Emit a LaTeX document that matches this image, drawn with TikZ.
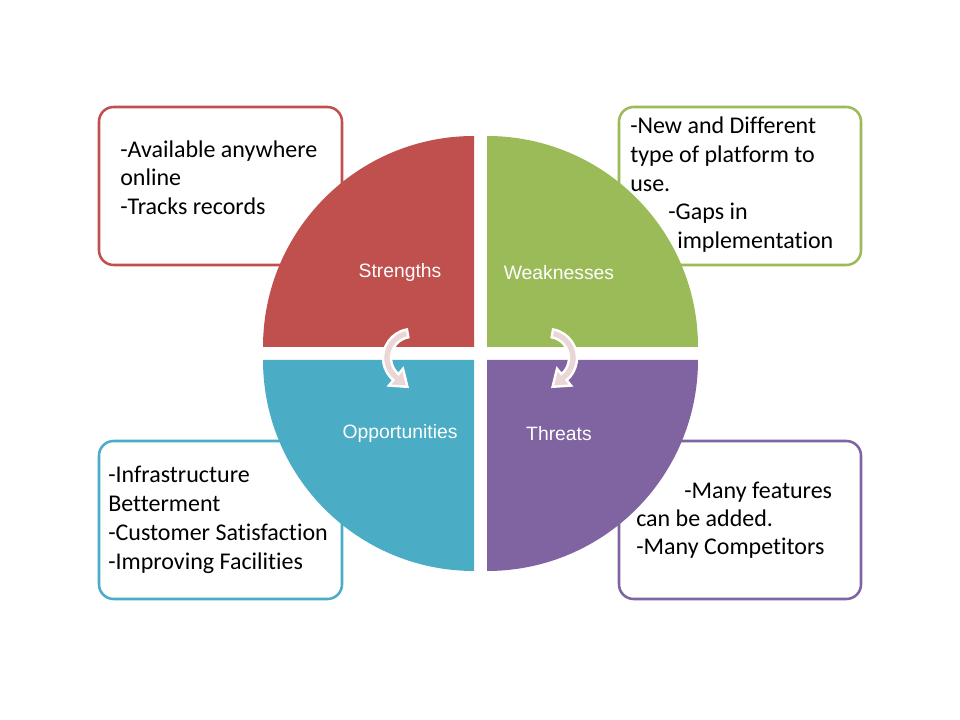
\documentclass[tikz,border=0pt]{standalone}
\usepackage{fontspec}
\setmainfont{Carlito}[Ligatures=NoCommon]
\newfontfamily\labelfont{Liberation Sans}
\usetikzlibrary{calc}
\definecolor{swotred}{RGB}{192,80,77}
\definecolor{swotgreen}{RGB}{155,187,89}
\definecolor{swotblue}{RGB}{75,172,198}
\definecolor{swotpurple}{RGB}{128,100,162}
\definecolor{cyclepink}{RGB}{234,214,214}
\tikzset{
  notebox/.style={draw=#1, line width=1.9pt, fill=white, rounded corners=11pt},
  quadrant/.style={fill=#1, draw=none},
  quadlabel/.style={font=\labelfont\fontsize{14.5pt}{17pt}\selectfont, text=white, inner sep=0pt},
  noteline/.style={font=\fontsize{18pt}{21.75pt}\selectfont, text=black, anchor=base west, inner sep=0pt},
  cyclearrow/.style={fill=cyclepink, draw=white, line width=1.8pt, line join=miter}
}
\begin{document}
\begin{tikzpicture}[x=0.75pt, y=0.75pt]
\useasboundingbox (0,0) rectangle (960,720);
\fill[white] (0,0) rectangle (960,720);

% note boxes behind the circle
\draw[notebox=swotred]    (99,613) rectangle (342,455);
\draw[notebox=swotgreen]  (619,613) rectangle (861,455);
\draw[notebox=swotblue]   (99,279) rectangle (342,121);
\draw[notebox=swotpurple] (619,279) rectangle (861,121);

% four quarter discs
\coordinate (cs) at (474,373);
\coordinate (cw) at (487,373);
\coordinate (co) at (474,360);
\coordinate (ct) at (487,360);
\fill[quadrant=swotred]    (cs) -- ++(-211,0) arc[start angle=180, end angle=90, radius=211] -- cycle;
\fill[quadrant=swotgreen]  (cw) -- ++(0,211) arc[start angle=90, end angle=0, radius=211] -- cycle;
\fill[quadrant=swotblue]   (co) -- ++(-211,0) arc[start angle=180, end angle=270, radius=211] -- cycle;
\fill[quadrant=swotpurple] (ct) -- ++(211,0) arc[start angle=0, end angle=-90, radius=211] -- cycle;

% quadrant titles
\node[quadlabel] (lblS) at (400,447) {Strengths};
\node[quadlabel] (lblW) at (559,447) {Weaknesses};
\node[quadlabel] (lblO) at (400,286) {Opportunities};
\node[quadlabel] (lblT) at (559,286) {Threats};

% curved arrows
\coordinate (al) at (412,362);
\coordinate (ar) at (548,362);
\draw[cyclearrow] ($(al)+(100:29)$) arc[start angle=100, end angle=230, radius=29]
  -- ($(al)+(230:36)$) -- ($(al)+(230:25)+(-40:15)$) -- ($(al)+(230:14)$)
  -- ($(al)+(230:21)$) arc[start angle=230, end angle=100, radius=21] -- cycle;
\draw[cyclearrow] ($(ar)+(80:29)$) arc[start angle=80, end angle=-50, radius=29]
  -- ($(ar)+(-50:36)$) -- ($(ar)+(-50:25)+(-140:15)$) -- ($(ar)+(-50:14)$)
  -- ($(ar)+(-50:21)$) arc[start angle=-50, end angle=80, radius=21] -- cycle;

% strengths notes
\node[noteline] (s1) at (120,562.7) {-Available anywhere};
\node[noteline] (s2) at (120,534) {online};
\node[noteline] (s3) at (120,505) {-Tracks records};

% weaknesses notes
\node[noteline] (w1) at (630,586.7) {-New and Different};
\node[noteline] (w2) at (630,557.3) {type of platform to};
\node[noteline] (w3) at (630,528.3) {use.};
\node[noteline] (w4) at (668,500) {-Gaps in};
\node[noteline] (w5) at (677,471) {implementation};

% opportunities notes
\node[noteline] (o1) at (108,237.3) {-Infrastructure};
\node[noteline] (o2) at (108,208.3) {Betterment};
\node[noteline] (o3) at (108,179) {-Customer Satisfaction};
\node[noteline] (o4) at (108,150.7) {-Improving Facilities};

% threats notes
\node[noteline] (t1) at (684,221.7) {-Many features};
\node[noteline] (t2) at (636,193.3) {can be added.};
\node[noteline] (t3) at (636,165.7) {-Many Competitors};
\end{tikzpicture}
\end{document}
